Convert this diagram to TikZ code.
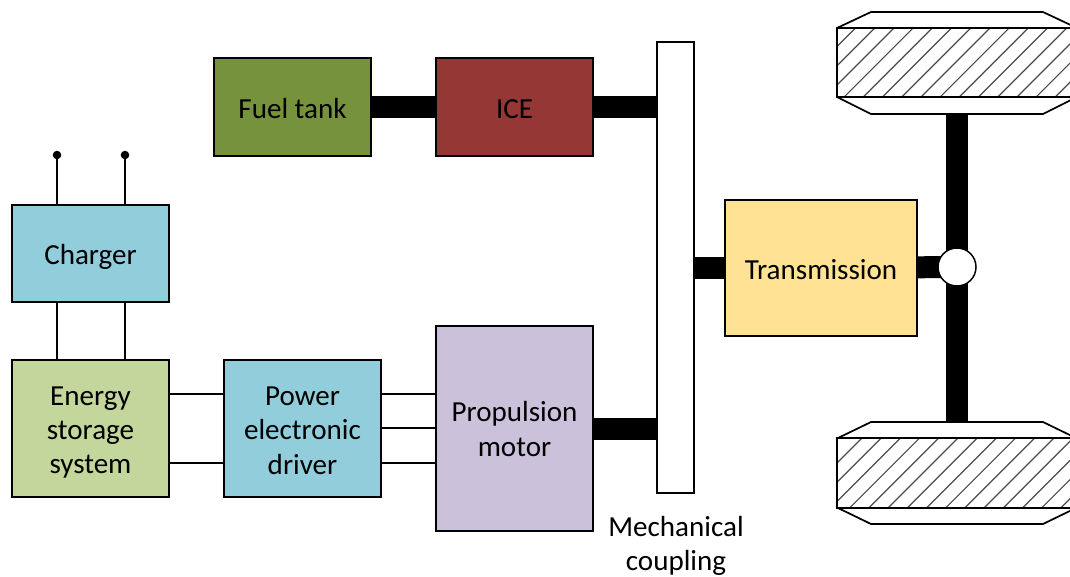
\documentclass[tikz,border=0pt]{standalone}
\usepackage{fontspec}
\setmainfont{Carlito}
\definecolor{tankcol}{HTML}{76923C}
\definecolor{icecol}{HTML}{953735}
\definecolor{aquacol}{HTML}{92CDDC}
\definecolor{storecol}{HTML}{C3D69B}
\definecolor{motorcol}{HTML}{CCC1DA}
\definecolor{gearcol}{HTML}{FFE294}
\newcommand{\topstrut}[1]{\rule{0pt}{#1}}
\tikzset{
  block/.style={draw=black, line width=1.1pt, inner sep=0pt, align=center, font=\fontsize{21.8}{25.7}\selectfont},
  shaft/.style={line width=16.5pt, black},
  wire/.style={line width=1.1pt, black},
  wheel/.style={draw=black, line width=1.3pt, inner sep=0pt, minimum width=180pt, minimum height=52pt}
}
\begin{document}
\begin{tikzpicture}[x=0.75pt, y=-0.75pt]
\clip (0,0) rectangle (1070,576);
%% engine branch
\node[block, fill=tankcol, minimum width=117.75pt, minimum height=73.5pt] (tank) at (292.5,107) {\topstrut{17pt}Fuel tank};
\node[block, fill=icecol, minimum width=117.75pt, minimum height=73.5pt] (ice) at (514.5,107) {\topstrut{17pt}ICE};
\node[block, fill=white, minimum width=27.75pt, minimum height=338.25pt] (bar) at (675.5,267.5) {};
\node[block, draw=none, anchor=north] (barlabel) at (676,515.5) {Mechanical\\coupling};
\draw[shaft] (tank) -- (ice);
\draw[shaft] (ice) -- (ice -| bar.west);
%% electric branch
\node[block, fill=aquacol, minimum width=117.75pt, minimum height=72.75pt] (charger) at (90.5,253.5) {\topstrut{20pt}Charger};
\node[block, fill=storecol, minimum width=117.75pt, minimum height=102.75pt] (store) at (90.5,428.5) {\topstrut{20pt}Energy\\storage\\system};
\node[block, fill=aquacol, minimum width=117.75pt, minimum height=102.75pt] (driver) at (302.5,428.5) {\topstrut{17pt}Power\\electronic\\driver};
\node[block, fill=motorcol, minimum width=117.75pt, minimum height=153.75pt] (motor) at (514.5,428.5) {\topstrut{16pt}Propulsion\\motor};
\draw[shaft] (motor) -- (motor -| bar.west);
\coordinate (plugA) at (57,155);
\coordinate (plugB) at (125,155);
\coordinate (lineA) at (200,394);
\coordinate (lineB) at (200,463);
\coordinate (lineC) at (200,428);
\draw[wire] (plugA) -- (plugA |- charger.north);
\draw[wire] (plugB) -- (plugB |- charger.north);
\fill (plugA) circle (3.2pt);
\fill (plugB) circle (3.2pt);
\draw[wire] (plugA |- charger.south) -- (plugA |- store.north);
\draw[wire] (plugB |- charger.south) -- (plugB |- store.north);
\draw[wire] (store.east |- lineA) -- (driver.west |- lineA);
\draw[wire] (store.east |- lineB) -- (driver.west |- lineB);
\draw[wire] (driver.east |- lineA) -- (motor.west |- lineA);
\draw[wire] (driver.east |- lineC) -- (motor.west |- lineC);
\draw[wire] (driver.east |- lineB) -- (motor.west |- lineB);
%% drive train
\node[block, fill=gearcol, minimum width=144pt, minimum height=102pt] (gear) at (821,268) {\topstrut{17pt}Transmission};
\foreach \wname/\wy/\wtop/\wbot/\wphase in {wheelA/62.5/12/114/-172, wheelB/473/422/524/-166} {
  \draw[line width=1.3pt, fill=white] (837,\wy-34.5) -- (871,\wtop) -- (1043,\wtop) -- (1077,\wy-34.5) -- (1077,\wy+34.5) -- (1043,\wbot) -- (871,\wbot) -- (837,\wy+34.5) -- cycle;
  \node[wheel, path picture={
    \foreach \k in {0,...,17} {
      \draw[line width=0.9pt, black!70] ({\wphase+\k*19.2},36) -- ({\wphase+\k*19.2+72},-36);
    }}] (\wname) at (957,\wy) {};
}
\coordinate (axleA) at (957,114);
\coordinate (axleB) at (957,422);
\coordinate (hubpos) at (957,267);
\draw[shaft] (axleA) -- (axleB);
\draw[shaft] (bar.east |- gear) -- (gear);
\draw[shaft] (gear) -- (hubpos);
\node[draw=black, fill=white, line width=1.1pt, circle, inner sep=0pt, minimum size=28.5pt] (hub) at (hubpos) {};
\end{tikzpicture}
\end{document}
